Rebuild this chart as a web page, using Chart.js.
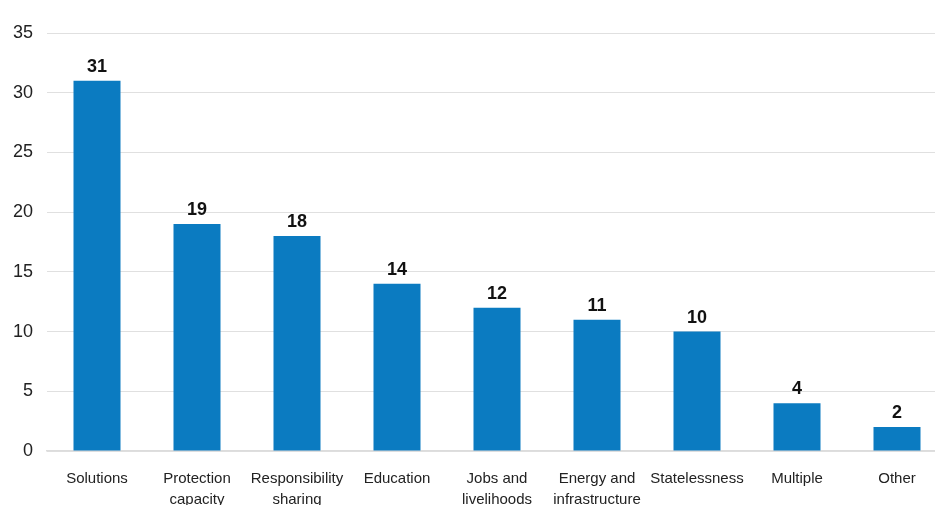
<!DOCTYPE html>
<html>
<head>
<meta charset="utf-8">
<script src="https://cdn.jsdelivr.net/npm/chart.js@4/dist/chart.umd.min.js"></script>
<style>
  html, body { margin: 0; padding: 0; background: #fff; overflow: hidden; }
  #wrap { position: absolute; left: 0; top: 0; width: 947px; height: 505px; }
</style>
</head>
<body>
<div id="wrap"><canvas id="grafico"></canvas></div>
<script>
const categorias = [
  "Solutions",
  ["Protection", "capacity"],
  ["Responsibility", "sharing"],
  "Education",
  ["Jobs and", "livelihoods"],
  ["Energy and", "infrastructure"],
  "Statelessness",
  "Multiple",
  "Other"
];
const valores = [31, 19, 18, 14, 12, 11, 10, 4, 2];
const yMin = 0, yMax = 35, yPaso = 5;

const fuente = "'Liberation Sans', Arial, sans-serif";

// etiquetas de valor sobre cada barra
const etiquetasBarras = {
  id: 'etiquetasBarras',
  afterDatasetsDraw(chart) {
    const ctx = chart.ctx;
    const meta = chart.getDatasetMeta(0);
    ctx.save();
    ctx.font = "bold 18px " + fuente;
    ctx.fillStyle = '#111';
    ctx.textAlign = 'center';
    ctx.textBaseline = 'bottom';
    meta.data.forEach((bar, i) => {
      ctx.fillText(String(valores[i]), bar.x, bar.y - 5);
    });
    ctx.restore();
  }
};

const ctx = document.getElementById("grafico").getContext("2d");
new Chart(ctx, {
  type: 'bar',
  data: {
    labels: categorias,
    datasets: [{
      data: valores,
      backgroundColor: '#0b7bc1',
      borderWidth: 0,
      barPercentage: 0.47,
      categoryPercentage: 1
    }]
  },
  options: {
    responsive: true,
    maintainAspectRatio: false,
    animation: false,
    layout: { padding: { top: 33, right: 0, left: 0, bottom: 0 } },
    plugins: {
      legend: { display: false },
      tooltip: { enabled: false }
    },
    scales: {
      x: {
        grid: { display: false },
        border: { display: true, color: '#dcdcdc', width: 1.5 },
        ticks: {
          color: '#222',
          font: { family: fuente, size: 15, lineHeight: 1.35 },
          padding: 10,
          maxRotation: 0,
          autoSkip: false
        },
        afterFit(scale) { scale.height = 54; }
      },
      y: {
        min: yMin,
        max: yMax,
        grid: { color: '#e0e0e0', lineWidth: 1, drawTicks: false },
        border: { display: false },
        ticks: {
          stepSize: yPaso,
          color: '#222',
          font: { family: fuente, size: 18 },
          padding: 14
        },
        afterFit(scale) { scale.width = 47; }
      }
    }
  },
  plugins: [etiquetasBarras]
});
</script>
</body>
</html>
